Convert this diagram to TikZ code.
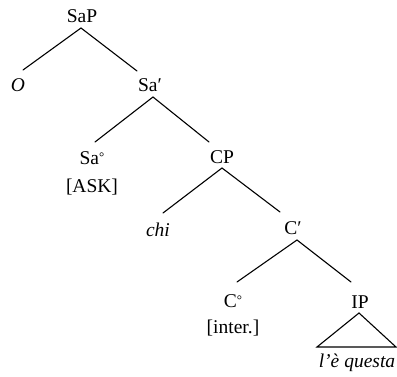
\documentclass[tikz,border=0pt]{standalone}
\usepackage{fontspec}
\setmainfont{Liberation Serif}
\usetikzlibrary{calc}
\newcommand{\smalldeg}{\raisebox{0.35ex}{\fontsize{13}{13}\selectfont °}}
\begin{document}
\begin{tikzpicture}[x=1pt,y=-1pt,
  lab/.style={inner sep=0pt,font=\fontsize{19.5}{22}\selectfont},
  edge/.style={line width=1.1pt,line cap=round}]
\useasboundingbox (0,0) rectangle (397,377);
\node[lab] (SaP) at (82,16) {SaP};
\node[lab] (O) at (18,85) {\itshape O};
\node[lab] (Sab) at (150,85) {Sa′};
\node[lab] (Sa0) at (92,158) {Sa\smalldeg};
\node[lab] (ASK) at (92,187) {[ASK]};
\node[lab] (CP) at (222,157) {CP};
\node[lab] (chi) at (158,230) {\itshape chi};
\node[lab] (Cb) at (293,228) {C′};
\node[lab] (C0) at (233,301) {C\smalldeg};
\node[lab] (inter) at (233,328) {[inter.]};
\node[lab] (IP) at (360,302) {IP};
\node[lab] (lq) at (357,363) {\itshape l’è questa};
\draw[edge] ($(SaP)+(-1,12)$) -- ($(O)+(5,-15)$);
\draw[edge] ($(SaP)+(-1,12)$) -- ($(Sab)+(-13,-14)$);
\draw[edge] ($(Sab)+(3,12)$) -- ($(Sa0)+(3,-16)$);
\draw[edge] ($(Sab)+(3,12)$) -- ($(CP)+(-13,-15)$);
\draw[edge] ($(CP)+(0,11)$) -- ($(chi)+(5,-17)$);
\draw[edge] ($(CP)+(0,11)$) -- ($(Cb)+(-13,-16)$);
\draw[edge] ($(Cb)+(4,12)$) -- ($(C0)+(4,-19)$);
\draw[edge] ($(Cb)+(4,12)$) -- ($(IP)+(-9,-20)$);
\draw[edge,line join=miter] ($(IP)+(-1,11)$) -- ($(IP)+(-43,45)$) -- ($(IP)+(36,45)$) -- cycle;
\end{tikzpicture}
\end{document}
